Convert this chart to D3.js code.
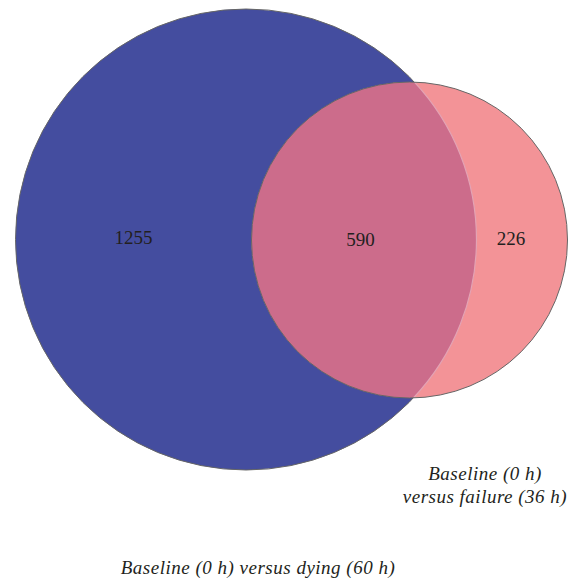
<!DOCTYPE html>
<html>
<head>
<meta charset="utf-8">
<script src="https://cdn.jsdelivr.net/npm/d3@7/dist/d3.min.js"></script>
<style>
  html, body { margin: 0; padding: 0; background: #ffffff; }
  svg { display: block; }
</style>
</head>
<body>
<svg id="chart" width="577" height="578"></svg>
<script>
// Region counts of the two-set Venn diagram
const regionNames = ["dyingOnly", "shared", "failureOnly"];
const regionCounts = [1255, 590, 226];

// Set captions
const setNames = ["dying", "failure"];
const setCaptions = [
  ["Baseline (0 h) versus dying (60 h)"],
  ["Baseline (0 h)", "versus failure (36 h)"]
];

const colors = {
  dying: "#444d9f",
  failure: "#f39397",
  shared: "#cc6c8b",
  edge: "#666666",
  text: "#231f20"
};

const FONT = "Liberation Serif";

const svg = d3.select("#chart");
const W = 577, H = 578;

// Circle layout in page units
const circles = [
  { name: "dying", cx: 246, cy: 239.5, r: 230.5 },
  { name: "failure", cx: 409.5, cy: 240, r: 158 }
];

const defs = svg.append("defs");
defs.append("clipPath").attr("id", "clipDying")
  .append("circle")
  .attr("cx", circles[0].cx).attr("cy", circles[0].cy).attr("r", circles[0].r);
defs.append("clipPath").attr("id", "clipFailure")
  .append("circle")
  .attr("cx", circles[1].cx).attr("cy", circles[1].cy).attr("r", circles[1].r);

// Region outside the smaller circle, used to clip the larger outline
const b = circles[1];
defs.append("clipPath").attr("id", "outsideFailure")
  .append("path")
  .attr("clip-rule", "evenodd")
  .attr("d", `M0,0H${W}V${H}H0Z M${b.cx + b.r},${b.cy} A${b.r},${b.r} 0 1,0 ${b.cx - b.r},${b.cy} A${b.r},${b.r} 0 1,0 ${b.cx + b.r},${b.cy}Z`);

// Full sets
svg.selectAll("circle.set")
  .data(circles)
  .join("circle")
  .attr("class", "set")
  .attr("cx", d => d.cx)
  .attr("cy", d => d.cy)
  .attr("r", d => d.r)
  .attr("fill", d => colors[d.name]);

// Intersection lens
svg.append("circle")
  .attr("cx", b.cx).attr("cy", b.cy).attr("r", b.r)
  .attr("clip-path", "url(#clipDying)")
  .attr("fill", colors.shared);

// Faint edge of the larger set inside the smaller one
svg.append("circle")
  .attr("cx", circles[0].cx).attr("cy", circles[0].cy).attr("r", circles[0].r)
  .attr("clip-path", "url(#clipFailure)")
  .attr("fill", "none")
  .attr("stroke", "#e3a3b4")
  .attr("stroke-width", 1.2);

// Outer outlines
svg.append("circle")
  .attr("cx", circles[0].cx).attr("cy", circles[0].cy).attr("r", circles[0].r)
  .attr("fill", "none")
  .attr("stroke", colors.edge)
  .attr("stroke-width", 1)
  .attr("clip-path", "url(#outsideFailure)");

svg.append("circle")
  .attr("cx", b.cx).attr("cy", b.cy).attr("r", b.r)
  .attr("fill", "none")
  .attr("stroke", colors.edge)
  .attr("stroke-width", 1);

// Region count labels
const labelPos = {
  dyingOnly: [133.5, 244],
  shared: [360.5, 246],
  failureOnly: [511, 245]
};
svg.selectAll("text.count")
  .data(regionNames.map((n, i) => ({ name: n, value: regionCounts[i] })))
  .join("text")
  .attr("class", "count")
  .attr("x", d => labelPos[d.name][0])
  .attr("y", d => labelPos[d.name][1])
  .attr("text-anchor", "middle")
  .style("font-family", FONT)
  .style("font-size", "19px")
  .attr("fill", colors.text)
  .text(d => d.value);

// Set captions
const captionPos = {
  dying: { x: 258, y: 574, dy: 0 },
  failure: { x: 485, y: 480, dy: 23 }
};
setNames.forEach((name, i) => {
  const p = captionPos[name];
  svg.append("text")
    .attr("text-anchor", "middle")
    .style("font-family", FONT)
    .style("font-style", "italic")
    .style("font-size", "19px")
    .style("letter-spacing", "0.5px")
    .attr("fill", colors.text)
    .selectAll("tspan")
    .data(setCaptions[i])
    .join("tspan")
    .attr("x", p.x)
    .attr("y", (d, j) => p.y + j * p.dy)
    .text(d => d);
});
</script>
</body>
</html>
